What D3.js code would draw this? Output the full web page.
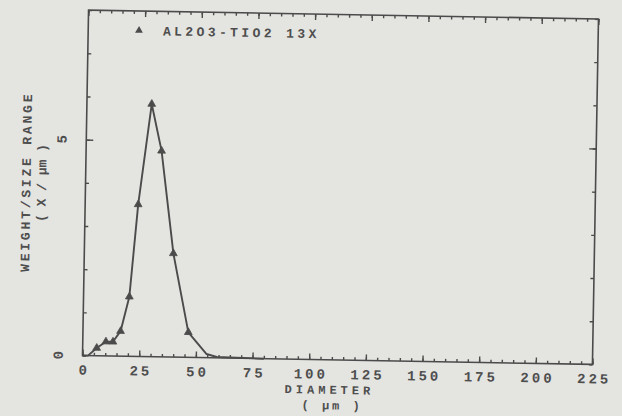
<!DOCTYPE html>
<html lang="en">
<head>
<meta charset="utf-8">
<title>AL2O3-TIO2 size distribution</title>
<script src="https://cdn.jsdelivr.net/npm/d3@7"></script>
<style>
  body { margin: 0; background: #e4e4e1; }
  svg { display: block; }
  text { font-family: "Liberation Mono", "DejaVu Sans Mono", monospace; fill: #4e4e4e; font-weight: bold; }
  .axis path.domain { display: none; }
  .axis line { stroke: #4b4b4b; stroke-width: 1.4; }
</style>
</head>
<body>
<script type="text/javascript">

// data
var diameters = [0, 2.4, 6.2, 10.2, 13.3, 16.6, 20.2, 23.4, 28.6, 33.3, 39.3, 46.5, 54.7, 59.2, 80];
var weights   = [0, 0,   0.18, 0.33, 0.33, 0.58, 1.38, 3.52, 5.85, 4.77, 2.40, 0.58, 0.085, 0.02, 0];
var marked    = [false, false, true, true, true, true, true, true, true, true, true, true, false, false, false];

var xTickLabels = [0, 25, 50, 75, 100, 125, 150, 175, 200, 225];
var yTickLabels = [0, 5];
var seriesName = "AL2O3-TIO2 13X";

var w = 622, h = 416;
var ink = "#4b4b4b";

var svg = d3.select("body").append("svg")
    .attr("width", w)
    .attr("height", h);

// the scan is turned about one degree
var g = svg.append("g").attr("transform", "rotate(1, 340, 187)");

var pLeft = 85.5, pRight = 595.5, pTop = 14.5, pBottom = 360;

var x = d3.scaleLinear().domain([0, 225]).range([pLeft, pRight]);
var y = d3.scaleLinear().domain([0, 8]).range([pBottom, pTop]);

// frame
g.append("rect")
    .attr("x", pLeft).attr("y", pTop)
    .attr("width", pRight - pLeft).attr("height", pBottom - pTop)
    .attr("fill", "none")
    .attr("stroke", ink)
    .attr("stroke-width", 1.6);

var minorX = d3.range(0, 226, 5);
var minorY = d3.range(0, 9, 1);

// bottom axis
g.append("g").attr("class", "axis")
    .attr("transform", "translate(0," + pBottom + ")")
    .call(d3.axisBottom(x).tickValues(minorX).tickSize(-3).tickFormat(""));
var xAxis = g.append("g").attr("class", "axis")
    .attr("transform", "translate(0," + pBottom + ")")
    .call(d3.axisBottom(x).tickValues(xTickLabels).tickSize(-6).tickPadding(9).tickFormat(d3.format("d")));
xAxis.selectAll("text")
    .attr("font-size", 14)
    .attr("letter-spacing", 3)
    .attr("dx", 1.5)
    .attr("fill", "#4e4e4e");

// top axis
g.append("g").attr("class", "axis")
    .attr("transform", "translate(0," + pTop + ")")
    .call(d3.axisTop(x).tickValues(minorX).tickSize(-3).tickFormat(""));
g.append("g").attr("class", "axis")
    .attr("transform", "translate(0," + pTop + ")")
    .call(d3.axisTop(x).tickValues(xTickLabels).tickSize(-6).tickFormat(""));

// left / right axes
g.append("g").attr("class", "axis")
    .attr("transform", "translate(" + pLeft + ",0)")
    .call(d3.axisLeft(y).tickValues(minorY).tickSize(-3.5).tickFormat(""));
g.append("g").attr("class", "axis")
    .attr("transform", "translate(" + pLeft + ",0)")
    .call(d3.axisLeft(y).tickValues([5]).tickSize(-7).tickFormat(""));
g.append("g").attr("class", "axis")
    .attr("transform", "translate(" + pRight + ",0)")
    .call(d3.axisRight(y).tickValues(minorY).tickSize(-3.5).tickFormat(""));
g.append("g").attr("class", "axis")
    .attr("transform", "translate(" + pRight + ",0)")
    .call(d3.axisRight(y).tickValues([5]).tickSize(-7).tickFormat(""));

// y tick labels, turned like the title
g.selectAll("text.ylab")
    .data(yTickLabels)
    .enter()
    .append("text")
    .attr("class", "ylab")
    .attr("transform", function(d) { return "translate(" + (pLeft - 24.5) + "," + y(d) + ") rotate(-90)"; })
    .attr("text-anchor", "middle")
    .attr("dy", "0.35em")
    .attr("font-size", 14)
    .text(function(d) { return d; });

// axis titles
var midY = (pTop + pBottom) / 2;
g.append("text")
    .attr("transform", "translate(30.5," + midY + ") rotate(-90)")
    .attr("text-anchor", "middle")
    .attr("font-size", 13)
    .attr("letter-spacing", 2.8)
    .text("WEIGHT/SIZE RANGE");
g.append("text")
    .attr("transform", "translate(46," + (midY + 1) + ") rotate(-90)")
    .attr("text-anchor", "middle")
    .attr("font-size", 13)
    .text("( X / \u03bcm )");

g.append("text")
    .attr("x", 333).attr("y", 394)
    .attr("text-anchor", "middle")
    .attr("font-size", 12)
    .attr("letter-spacing", 4)
    .text("DIAMETER");
g.append("text")
    .attr("x", 336).attr("y", 409.5)
    .attr("text-anchor", "middle")
    .attr("font-size", 12)
    .attr("letter-spacing", 3)
    .text("( \u03bcm )");

// series line
var points = diameters.map(function(d, i) { return { d: d, v: weights[i], m: marked[i] }; });

var line = d3.line()
    .x(function(p) { return x(p.d); })
    .y(function(p) { return y(p.v); });

g.append("path")
    .datum(points)
    .attr("d", line)
    .attr("fill", "none")
    .attr("stroke", ink)
    .attr("stroke-width", 1.9)
    .attr("stroke-linejoin", "round");

var tri = d3.symbol().type(d3.symbolTriangle).size(26);

g.selectAll("path.marker")
    .data(points.filter(function(p) { return p.m; }))
    .enter()
    .append("path")
    .attr("class", "marker")
    .attr("d", tri)
    .attr("transform", function(p) { return "translate(" + x(p.d) + "," + y(p.v) + ")"; })
    .attr("fill", ink)
    .attr("stroke", ink)
    .attr("stroke-width", 0.8);

// legend
g.append("path")
    .attr("d", tri)
    .attr("transform", "translate(136.3,34)")
    .attr("fill", ink);
g.append("text")
    .attr("x", 160.3).attr("y", 38.5)
    .attr("font-size", 13)
    .attr("letter-spacing", 3.4)
    .text(seriesName);

</script>
</body>
</html>
